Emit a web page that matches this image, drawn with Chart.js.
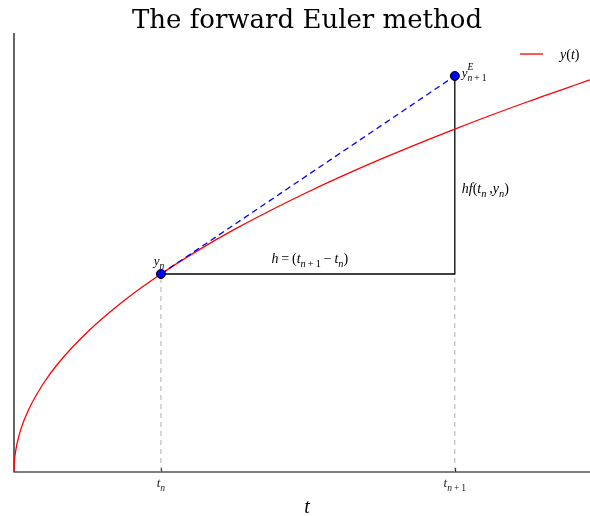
<!DOCTYPE html>
<html>
<head>
  <meta charset="UTF-8">
  <title>The forward Euler method</title>
  <script src="https://cdn.jsdelivr.net/npm/chart.js"></script>
  <style>
    body { margin: 0; background: #fff; }
    #wrap { width: 590px; height: 516px; position: relative; }
  </style>
</head>
<body>
  <div id="wrap"><canvas id="euler"></canvas></div>
  <script>
    // exact solution y(t)
    const tCurve = [0, 0.001, 0.005, 0.01, 0.02, 0.05, 0.1, 0.2, 0.3, 0.5, 0.75, 1, 1.25, 1.5, 2, 2.5, 3, 3.5, 3.92];
    const yCurve = [0, 0.032, 0.071, 0.1, 0.141, 0.224, 0.316, 0.447, 0.548, 0.707, 0.866, 1, 1.118, 1.225, 1.414, 1.581, 1.732, 1.871, 1.98];

    // one Euler step
    const tStep = [1, 3];          // t_n, t_n+1
    const yStep = [1, 2];          // y_n, y^E_n+1
    const tickLabels = [['t', 'n'], ['t', 'n+1']];

    const xMax = 3.92, yMax = 2.217;

    const curve = tCurve.map((t, i) => ({ x: t, y: yCurve[i] }));
    const pts = tStep.map((t, i) => ({ x: t, y: yStep[i] }));

    const SUB = 0.74;

    // draw italic math text with sub/superscripts
    // parts: [text, 'n'|'sub'|'sup', upright?]
    function drawMath(ctx, x, y, parts, size, align, color) {
      const fam = '"Liberation Serif", serif';
      let w = 0;
      const widths = [];
      parts.forEach(p => {
        const s = p[1] === 'n' ? size : size * SUB;
        ctx.font = (p[2] ? '' : 'italic ') + s + 'px ' + fam;
        const m = ctx.measureText(p[0]).width;
        widths.push(m);
        if (p[1] !== 'sup') w += m;
      });
      let cx = align === 'center' ? x - w / 2 : x;
      ctx.fillStyle = color || '#000';
      ctx.textBaseline = 'alphabetic';
      ctx.textAlign = 'left';
      parts.forEach((p, i) => {
        const s = p[1] === 'n' ? size : size * SUB;
        ctx.font = (p[2] ? '' : 'italic ') + s + 'px ' + fam;
        let dy = 0;
        if (p[1] === 'sub') dy = size * 0.3;
        if (p[1] === 'sup') dy = -size * 0.55;
        ctx.fillText(p[0], cx, y + dy);
        if (p[1] !== 'sup') cx += widths[i];
      });
    }

    const decor = {
      id: 'decor',
      beforeDatasetsDraw(chart) {
        const { ctx, chartArea: a, scales: { x } } = chart;
        ctx.save();
        // spines
        ctx.strokeStyle = '#000';
        ctx.lineWidth = 1.2;
        ctx.beginPath();
        ctx.moveTo(a.left, a.top);
        ctx.lineTo(a.left, a.bottom);
        ctx.lineTo(a.right, a.bottom);
        ctx.stroke();
        // inward ticks
        tStep.forEach(t => {
          const px = Math.round(x.getPixelForValue(t)) + 0.5;
          ctx.beginPath();
          ctx.moveTo(px, a.bottom);
          ctx.lineTo(px, a.bottom - 4);
          ctx.stroke();
        });
        ctx.restore();
      },
      afterDraw(chart) {
        const { ctx, scales: { x, y } } = chart;
        ctx.save();
        // title
        ctx.fillStyle = '#000';
        ctx.font = '26px "DejaVu Serif", serif';
        ctx.textAlign = 'center';
        ctx.textBaseline = 'alphabetic';
        ctx.fillText('The forward Euler method', 307, 28);

        // tick labels
        drawMath(ctx, x.getPixelForValue(tStep[0]), 487, [[tickLabels[0][0], 'n'], [tickLabels[0][1], 'sub']], 13, 'center', '#222');
        drawMath(ctx, x.getPixelForValue(tStep[1]), 487, [[tickLabels[1][0], 'n'], ['n', 'sub'], ['\u2009+\u20091', 'sub', true]], 13, 'center', '#222');

        // axis label
        drawMath(ctx, 307, 513, [['t', 'n']], 20, 'center');

        const x0 = x.getPixelForValue(tStep[0]);
        const x1 = x.getPixelForValue(tStep[1]);
        const y0 = y.getPixelForValue(yStep[0]);
        const y1 = y.getPixelForValue(yStep[1]);

        drawMath(ctx, x0 - 2, y0 - 9, [['y', 'n'], ['n', 'sub']], 13, 'center');
        drawMath(ctx, x1 + 7, y1 + 1, [['y', 'n'], ['E', 'sup'], ['n', 'sub'], ['\u2009+\u20091', 'sub', true]], 13, 'left');
        drawMath(ctx, (x0 + x1) / 2 + 2, y0 - 11,
          [['h', 'n'], ['\u2009=\u2009(', 'n', true], ['t', 'n'], ['n', 'sub'], ['\u2009+\u20091', 'sub', true], ['\u2009−\u2009', 'n', true], ['t', 'n'], ['n', 'sub'], [')', 'n', true]], 14, 'center');
        drawMath(ctx, x1 + 7, (y0 + y1) / 2 + 18,
          [['hf', 'n'], ['(', 'n', true], ['t', 'n'], ['n', 'sub'], ['\u2009,', 'n', true], ['y', 'n'], ['n', 'sub'], [')', 'n', true]], 14, 'left');

        // legend
        ctx.strokeStyle = 'red';
        ctx.lineWidth = 1.3;
        ctx.beginPath();
        ctx.moveTo(520, 54);
        ctx.lineTo(543, 54);
        ctx.stroke();
        drawMath(ctx, 560, 59, [['y', 'n'], ['(', 'n', true], ['t', 'n'], [')', 'n', true]], 14, 'left');
        ctx.restore();
      }
    };

    new Chart(document.getElementById('euler'), {
      type: 'scatter',
      data: {
        datasets: [
          {
            data: pts,
            showLine: false,
            pointRadius: 4.5,
            pointBackgroundColor: '#0000ff',
            pointBorderColor: '#000',
            pointBorderWidth: 1,
            order: 0
          },
          {
            data: curve,
            showLine: true,
            borderColor: 'red',
            borderWidth: 1.3,
            pointRadius: 0,
            cubicInterpolationMode: 'monotone',
            order: 2
          },
          {
            data: pts,
            showLine: true,
            borderColor: '#0000ff',
            borderWidth: 1.3,
            borderDash: [6, 4],
            pointRadius: 0,
            order: 1
          },
          {
            data: [pts[0], { x: tStep[1], y: yStep[0] }, pts[1]],
            showLine: true,
            borderColor: '#000',
            borderWidth: 1.3,
            pointRadius: 0,
            order: 3
          },
          {
            data: [{ x: tStep[0], y: 0 }, { x: tStep[0], y: yStep[0] }],
            showLine: true,
            borderColor: '#b0b0b0',
            borderWidth: 1,
            borderDash: [5, 4],
            pointRadius: 0,
            order: 4
          },
          {
            data: [{ x: tStep[1], y: 0 }, { x: tStep[1], y: yStep[0] }],
            showLine: true,
            borderColor: '#b0b0b0',
            borderWidth: 1,
            borderDash: [5, 4],
            pointRadius: 0,
            order: 4
          }
        ]
      },
      options: {
        responsive: true,
        maintainAspectRatio: false,
        animation: false,
        layout: { autoPadding: false, padding: { left: 14, top: 33, right: 0, bottom: 44 } },
        plugins: {
          legend: { display: false },
          tooltip: { enabled: false }
        },
        scales: {
          x: { type: 'linear', display: false, min: 0, max: xMax },
          y: { type: 'linear', display: false, min: 0, max: yMax }
        }
      },
      plugins: [decor]
    });
  </script>
</body>
</html>
